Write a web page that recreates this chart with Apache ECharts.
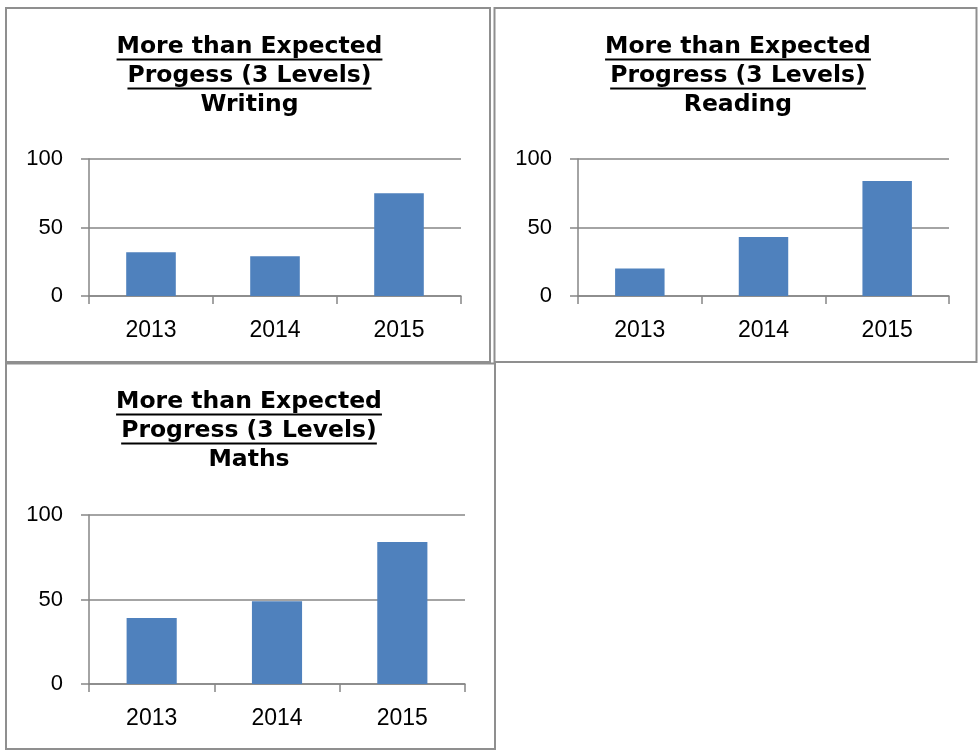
<!DOCTYPE html>
<html>
<head>
<meta charset="utf-8">
<script src="https://cdn.jsdelivr.net/npm/echarts@6/dist/echarts.min.js"></script>
<style>
  html, body { margin: 0; padding: 0; background: #ffffff; }
  #chart { width: 978px; height: 752px; }
</style>
</head>
<body>
<div id="chart"></div>
<script>
// Categories and values for the three progress charts
const categories = ['2013', '2014', '2015'];
const writingValues = [32, 29, 75];
const readingValues = [20, 43, 84];
const mathsValues = [39, 49, 84];

// Value axis range and tick spacing
const yMin = 0;
const yMax = 100;
const yStep = 50;

// Title lines
const headline = 'More than Expected';
const subheads = ['Progess (3 Levels)', 'Progress (3 Levels)', 'Progress (3 Levels)'];
const subjects = ['Writing', 'Reading', 'Maths'];
const seriesValues = [writingValues, readingValues, mathsValues];

// Panel frames, plot areas and title anchors
const panels = [
  { box: [6, 8, 484, 354],       grid: { left: 89,  top: 159, width: 372, height: 137 }, cx: 249.5, titleTop: 32 },
  { box: [494.5, 8, 482, 354],   grid: { left: 578, top: 159, width: 371, height: 137 }, cx: 738,   titleTop: 32 },
  { box: [6, 363.5, 489, 385.5], grid: { left: 89,  top: 515, width: 376, height: 169 }, cx: 249,   titleTop: 387 }
];

const titleFont = 'DejaVu Sans';
const titleSize = 23.5;
const titleLineHeight = 29;
const labelFont = 'Liberation Sans';
const axisGray = '#868686';
const barBlue = '#4F81BD';

const measureCtx = document.createElement('canvas').getContext('2d');
measureCtx.font = 'bold ' + titleSize + 'px "' + titleFont + '"';
const textWidth = s => measureCtx.measureText(s).width;

const titles = [];
const graphics = [];
const grids = [];
const xAxes = [];
const yAxes = [];
const series = [];

panels.forEach((p, i) => {
  // outer frame of each chart
  graphics.push({
    type: 'rect',
    shape: { x: p.box[0], y: p.box[1], width: p.box[2], height: p.box[3] },
    style: { fill: 'none', stroke: '#8f8f8f', lineWidth: 2 },
    silent: true
  });

  const lines = [headline, subheads[i], subjects[i]];
  titles.push({
    text: lines.join('\n'),
    left: p.cx,
    top: p.titleTop,
    textAlign: 'center',
    padding: 0,
    textStyle: {
      fontFamily: titleFont,
      fontWeight: 'bold',
      fontSize: titleSize,
      lineHeight: titleLineHeight,
      color: '#000000'
    }
  });

  // underline the first two title lines
  [0, 1].forEach(k => {
    const w = textWidth(lines[k]);
    const y = p.titleTop + 27.5 + k * titleLineHeight;
    graphics.push({
      type: 'line',
      shape: { x1: p.cx - w / 2, y1: y, x2: p.cx + w / 2, y2: y },
      style: { stroke: '#000000', lineWidth: 2 },
      silent: true
    });
  });

  grids.push(Object.assign({ containLabel: false }, p.grid));

  xAxes.push({
    type: 'category',
    gridIndex: i,
    data: categories,
    axisLine: { show: true, lineStyle: { color: axisGray, width: 1.5 } },
    axisTick: { show: true, length: 8, lineStyle: { color: axisGray, width: 1.5 } },
    axisLabel: { color: '#000000', fontFamily: labelFont, fontSize: 23, margin: 23 },
    splitLine: { show: false }
  });

  yAxes.push({
    type: 'value',
    gridIndex: i,
    min: yMin,
    max: yMax,
    interval: yStep,
    axisLine: { show: true, lineStyle: { color: axisGray, width: 1.5 } },
    axisTick: { show: true, length: 8, lineStyle: { color: axisGray, width: 1.5 } },
    axisLabel: { color: '#000000', fontFamily: labelFont, fontSize: 22, margin: 26 },
    splitLine: { show: true, lineStyle: { color: axisGray, width: 1.5 } }
  });

  series.push({
    type: 'bar',
    name: subjects[i],
    xAxisIndex: i,
    yAxisIndex: i,
    data: seriesValues[i],
    barWidth: '40%',
    itemStyle: { color: barBlue },
    animation: false
  });
});

const chart = echarts.init(document.getElementById('chart'), null, { renderer: 'canvas' });
chart.setOption({
  animation: false,
  backgroundColor: '#ffffff',
  title: titles,
  grid: grids,
  xAxis: xAxes,
  yAxis: yAxes,
  series: series,
  graphic: { elements: graphics }
});
</script>
</body>
</html>
